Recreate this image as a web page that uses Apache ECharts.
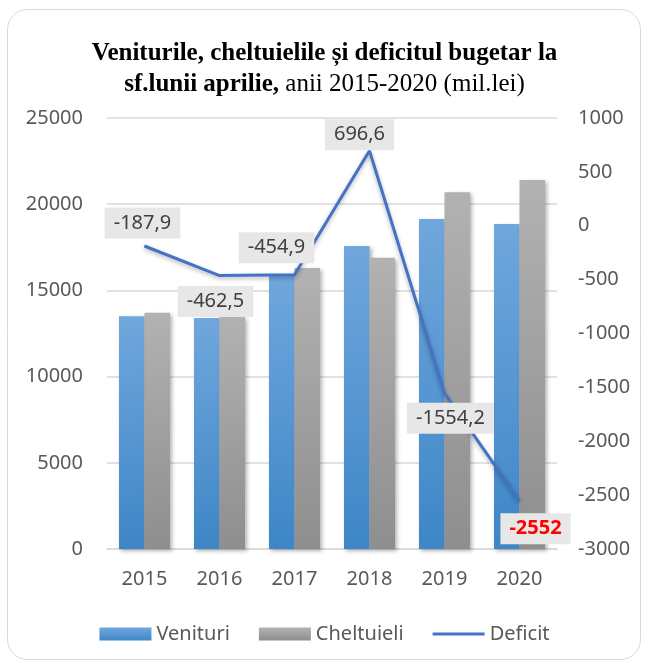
<!DOCTYPE html>
<html>
<head>
<meta charset="utf-8">
<script src="https://cdn.jsdelivr.net/npm/echarts@6/dist/echarts.min.js"></script>
<style>
  html, body {margin: 0; padding: 0; background: #fff;}
  #chart {width: 649px; height: 666px;}
</style>
</head>
<body>
<div id="chart"></div>
<script>
const years = ['2015', '2016', '2017', '2018', '2019', '2020'];
const venituri = [13500, 13400, 15900, 17580, 19140, 18850];
const cheltuieli = [13700, 13450, 16300, 16900, 20700, 21400];
const deficit = [-187.9, -462.5, -454.9, 696.6, -1554.2, -2552];

// where each deficit label sits relative to its point
const labelOffsets = [[-2, -23], [-4, 26], [-18, -27], [-10, -16], [6, 25], [16, 28]];

const font = 'Noto Sans';
const chart = echarts.init(document.getElementById('chart'));

const grad = (top, bottom) => new echarts.graphic.LinearGradient(0, 0, 0, 1, [
  {offset: 0, color: top},
  {offset: 1, color: bottom}
]);

const barShadow = {
  shadowBlur: 4,
  shadowColor: 'rgba(0,0,0,0.3)',
  shadowOffsetX: 2,
  shadowOffsetY: 2
};

chart.setOption({
  animation: false,
  graphic: [{
    type: 'rect',
    shape: {x: 7.5, y: 9.5, width: 633, height: 650, r: 20},
    style: {fill: '#fff', stroke: '#d9d9d9', lineWidth: 1},
    z: -10
  }],
  title: {
    left: 'center',
    top: 33,
    text: '{b|Veniturile, cheltuielile și deficitul bugetar la}\n{b|sf.lunii aprilie,}{n| anii 2015-2020 (mil.lei)}',
    textStyle: {
      rich: {
        b: {fontFamily: 'Liberation Serif', fontWeight: 'bold', fontSize: 25, color: '#000', lineHeight: 31},
        n: {fontFamily: 'Liberation Serif', fontWeight: 'normal', fontSize: 25, color: '#000', lineHeight: 31}
      }
    }
  },
  grid: {left: 107, right: 92, top: 118, bottom: 117},
  legend: {
    bottom: 17,
    left: 'center',
    itemWidth: 52,
    itemHeight: 13,
    itemGap: 29,
    textStyle: {fontFamily: font, fontSize: 20, color: '#595959'},
    data: [
      {name: 'Venituri', icon: 'rect'},
      {name: 'Cheltuieli', icon: 'rect'},
      {name: 'Deficit', icon: 'path://M0,0H52V3H0Z'}
    ]
  },
  xAxis: {
    type: 'category',
    data: years,
    axisTick: {show: false},
    axisLine: {lineStyle: {color: '#d9d9d9', width: 1.5}},
    axisLabel: {fontFamily: font, fontSize: 20, color: '#595959', margin: 20}
  },
  yAxis: [{
    type: 'value',
    min: 0,
    max: 25000,
    interval: 5000,
    axisLine: {show: false},
    axisTick: {show: false},
    splitLine: {lineStyle: {color: '#d9d9d9', width: 1.5}},
    axisLabel: {fontFamily: font, fontSize: 20, color: '#595959', margin: 24, formatter: v => String(v)}
  }, {
    type: 'value',
    min: -3000,
    max: 1000,
    interval: 500,
    axisLine: {show: false},
    axisTick: {show: false},
    splitLine: {show: false},
    axisLabel: {fontFamily: font, fontSize: 20, color: '#595959', margin: 21, formatter: v => String(v)}
  }],
  series: [{
    name: 'Venituri',
    type: 'bar',
    data: venituri,
    barGap: '0%',
    barCategoryGap: '32%',
    itemStyle: Object.assign({color: grad('#70a7dd', '#3e86c7')}, barShadow)
  }, {
    name: 'Cheltuieli',
    type: 'bar',
    data: cheltuieli,
    itemStyle: Object.assign({color: grad('#b2b2b2', '#8e8e8e')}, barShadow)
  }, {
    name: 'Deficit',
    type: 'line',
    yAxisIndex: 1,
    data: deficit.map((v, i) => ({
      value: v,
      label: i === deficit.length - 1
        ? {offset: labelOffsets[i], color: '#ff0000', fontWeight: 'bold'}
        : {offset: labelOffsets[i]}
    })),
    symbol: 'circle',
    symbolSize: 1,
    z: 5,
    itemStyle: {color: '#4472c4'},
    lineStyle: {
      color: '#4472c4',
      width: 3,
      shadowBlur: 4,
      shadowColor: 'rgba(0,0,0,0.3)',
      shadowOffsetY: 2
    },
    label: {
      show: true,
      position: 'inside',
      fontFamily: font,
      fontSize: 20,
      color: '#404040',
      backgroundColor: '#e7e7e7',
      padding: [6, 9, 5, 9],
      formatter: p => String(p.value).replace('.', ',')
    }
  }]
});
</script>
</body>
</html>
